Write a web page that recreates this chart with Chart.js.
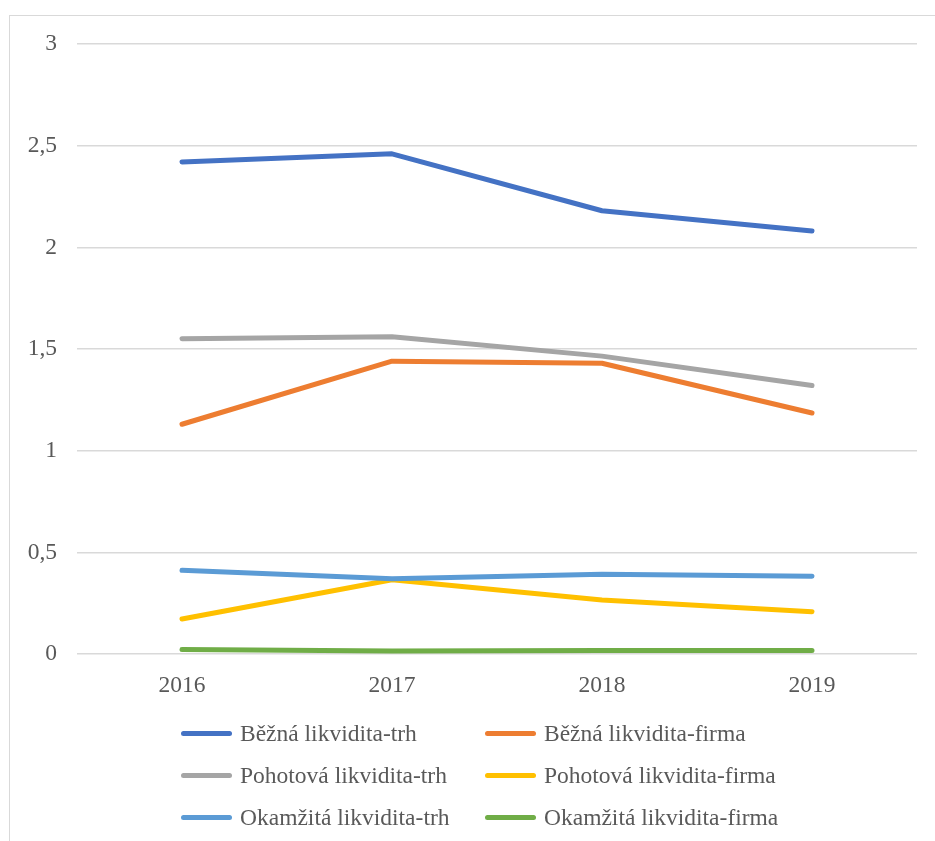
<!DOCTYPE html>
<html>
<head>
<meta charset="utf-8">
<script src="https://cdn.jsdelivr.net/npm/chart.js@4"></script>
<style>
  html, body { margin: 0; padding: 0; background: #fff; overflow: hidden; }
  #wrap { position: relative; width: 935px; height: 841px; }
  #frame { position: absolute; left: 9px; top: 15px; width: 1200px; height: 1200px; border: 1px solid #d9d9d9; box-sizing: border-box; }
  #chart { position: absolute; left: 0; top: 0; }
  .leg { position: absolute; display: flex; align-items: center; height: 30px; font-family: "Liberation Serif", "Times New Roman", serif; font-size: 23.5px; color: #595959; white-space: nowrap; }
  .leg span.mark { display: inline-block; width: 51px; height: 5px; border-radius: 3px; margin-right: 8px; }
</style>
</head>
<body>
<div id="wrap">
  <div id="frame"></div>
  <canvas id="chart" width="935" height="841"></canvas>
</div>
<script>
// years on the x axis
const years = ['2016', '2017', '2018', '2019'];

// series names (same order as the legend)
const seriesNames = [
    'Běžná likvidita-trh',
    'Běžná likvidita-firma',
    'Pohotová likvidita-trh',
    'Pohotová likvidita-firma',
    'Okamžitá likvidita-trh',
    'Okamžitá likvidita-firma'
];

// values
const beznaTrh = [2.42, 2.46, 2.18, 2.08];
const beznaFirma = [1.13, 1.44, 1.43, 1.185];
const pohotovaTrh = [1.55, 1.56, 1.465, 1.32];
const pohotovaFirma = [0.172, 0.365, 0.266, 0.208];
const okamzitaTrh = [0.412, 0.37, 0.392, 0.382];
const okamzitaFirma = [0.022, 0.015, 0.017, 0.017];

const seriesColors = ['#4472C4', '#ED7D31', '#A5A5A5', '#FFC000', '#5B9BD5', '#70AD47'];
const allValues = [beznaTrh, beznaFirma, pohotovaTrh, pohotovaFirma, okamzitaTrh, okamzitaFirma];

const font = 'Liberation Serif';

const chart = new Chart(document.querySelector('#chart').getContext('2d'), {
    type: 'line',
    data: {
        labels: years,
        datasets: allValues.map((vals, i) => ({
            label: seriesNames[i],
            data: vals,
            borderColor: seriesColors[i],
            backgroundColor: seriesColors[i],
            borderWidth: 5,
            borderCapStyle: 'round',
            borderJoinStyle: 'round',
            pointRadius: 0,
            tension: 0,
            order: allValues.length - 1 - i
        }))
    },
    options: {
        responsive: false,
        animation: false,
        layout: { padding: { left: 0, right: 18, top: 44, bottom: 137 } },
        plugins: {
            legend: { display: false },
            tooltip: { enabled: false }
        },
        scales: {
            x: {
                offset: true,
                grid: { display: false, drawTicks: false },
                border: { display: false },
                ticks: { color: '#595959', font: { family: font, size: 23.5 }, padding: 18 },
                afterFit: scale => { scale.height = 50; }
            },
            y: {
                min: 0,
                max: 3,
                grid: { color: '#d9d9d9', lineWidth: 1.5, drawTicks: false },
                border: { display: false },
                ticks: {
                    stepSize: 0.5,
                    color: '#595959',
                    font: { family: font, size: 23.5 },
                    padding: 20,
                    callback: v => String(v).replace('.', ',')
                },
                afterFit: scale => { scale.width = 77; }
            }
        }
    }
});

// legend in two columns, built from the datasets
const colLeft = [181, 485];
const rowTop = [718, 760, 802];
chart.data.datasets.forEach((ds, i) => {
    const item = document.createElement('div');
    item.className = 'leg';
    item.style.left = colLeft[i % 2] + 'px';
    item.style.top = rowTop[Math.floor(i / 2)] + 'px';
    const mark = document.createElement('span');
    mark.className = 'mark';
    mark.style.background = ds.borderColor;
    item.appendChild(mark);
    item.appendChild(document.createTextNode(ds.label));
    document.querySelector('#wrap').appendChild(item);
});
</script>
</body>
</html>
